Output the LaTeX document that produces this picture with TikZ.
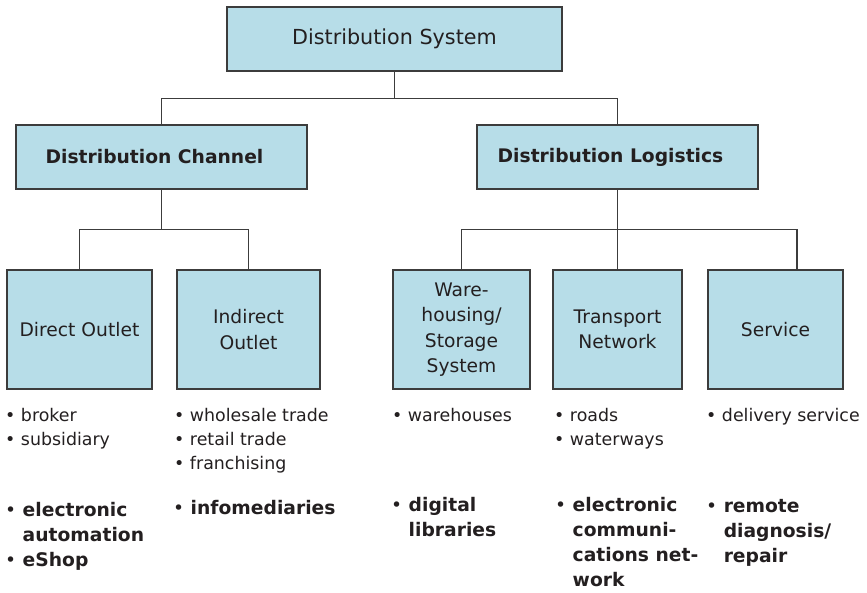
\documentclass[tikz,border=0pt]{standalone}
\usepackage{fontspec}
\setmainfont{DejaVu Sans}
\usetikzlibrary{positioning}
\definecolor{boxblue}{RGB}{183,221,232}
\definecolor{linegray}{RGB}{60,60,60}
\definecolor{inkgray}{RGB}{35,31,32}
\newcommand{\itembullet}{{\mdseries •}\ }

\begin{document}
\begin{tikzpicture}[x=1pt, y=-1pt,
      box/.style={rectangle, draw=linegray, line width=1.5pt, fill=boxblue,
                  align=center, text=inkgray, minimum height=119pt, inner sep=2pt,
                  font=\fontsize{18.7}{25.5}\selectfont},
      headbox/.style={box, minimum height=64pt},
      plainlist/.style={anchor=north west, align=left, inner sep=0pt, text=inkgray,
                  font=\fontsize{17.4}{24}\selectfont},
      boldlist/.style={plainlist, font=\fontsize{18.7}{25}\selectfont\bfseries},
      link/.style={draw=linegray, line width=1.2pt}]
    \useasboundingbox (0,0) rectangle (867,592);
    % top levels
    \node[headbox, minimum width=335pt, font=\fontsize{20.7}{25}\selectfont] (sys) at (394.5,39) {Distribution System};
    \node[headbox, minimum width=291pt, font=\fontsize{18.7}{25}\selectfont\bfseries] (chan) at (161.5,157) {Distribution Channel\hspace*{14pt}};
    \node[headbox, minimum width=281pt, font=\fontsize{18.7}{25}\selectfont\bfseries] (logi) at (617.5,157) {Distribution Logistics\hspace*{14pt}};
    % third level
    \node[box, minimum width=145pt] (direct) at (79.5,329.5) {Direct Outlet};
    \node[box, minimum width=143pt] (indirect) at (248.5,329.5) {Indirect\\Outlet};
    \node[box, minimum width=137pt] (ware) at (461.5,329.5) {Ware-\\housing/\\Storage\\System};
    \node[box, minimum width=129pt] (trans) at (617.5,329.5) {Transport\\Network};
    \node[box, minimum width=135pt] (serv) at (775.5,329.5) {Service};
    \coordinate (servtop) at ([xshift=21.5pt]serv.north);
    % connectors
    \draw[link] (sys.south) -- ++(0,27) -| (chan.north);
    \draw[link] (sys.south) -- ++(0,27) -| (logi.north);
    \draw[link] (chan.south) -- ++(0,40) -| (direct.north);
    \draw[link] (chan.south) -- ++(0,40) -| (indirect.north);
    \draw[link] (logi.south) -- ++(0,40) -| (ware.north);
    \draw[link] (logi.south) -- (trans.north);
    \draw[link] (logi.south) -- ++(0,40) -| (servtop);
    % item lists
    \node[plainlist] (directA) at (5,408) {• broker\\• subsidiary};
    \node[plainlist] (indirectA) at (174,408) {• wholesale trade\\• retail trade\\• franchising};
    \node[plainlist] (wareA) at (392,408) {• warehouses};
    \node[plainlist] (transA) at (554,408) {• roads\\• waterways};
    \node[plainlist] (servA) at (706,408) {• delivery service};
    \node[boldlist] (directB) at (5,502) {\itembullet electronic\\\hphantom{\itembullet}automation\\\itembullet eShop};
    \node[boldlist] (indirectB) at (173,500) {\itembullet infomediaries};
    \node[boldlist] (wareB) at (391,497) {\itembullet digital\\\hphantom{\itembullet}libraries};
    \node[boldlist] (transB) at (555,497) {\itembullet electronic\\\hphantom{\itembullet}communi-\\\hphantom{\itembullet}cations net-\\\hphantom{\itembullet}work};
    \node[boldlist] (servB) at (706,499) {\itembullet remote\\\hphantom{\itembullet}diagnosis/\\\hphantom{\itembullet}repair};
\end{tikzpicture}
\end{document}
